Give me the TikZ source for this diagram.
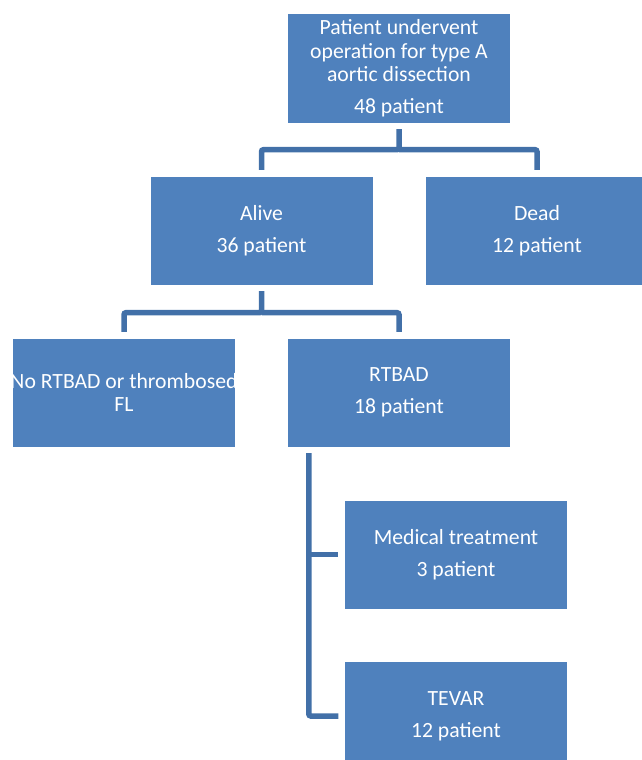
\documentclass[tikz,border=0pt]{standalone}
\usepackage{fontspec}
\setmainfont{Carlito}
\definecolor{boxblue}{RGB}{79,129,189}
\definecolor{lineblue}{RGB}{66,112,168}
\begin{document}
\begin{tikzpicture}[x=1pt,y=-1pt,
  box/.style={fill=boxblue, text=white, inner sep=0pt, align=center,
    minimum width=222pt, minimum height=108pt,
    font=\fontsize{21.7}{23.5}\selectfont},
  conn/.style={draw=lineblue, line width=5.5pt, rounded corners=2pt,
    shorten <=6.5pt, shorten >=6.5pt}]
\useasboundingbox (0,0) rectangle (642,760);
\clip (0,0) rectangle (642,760);
\node[box] (top) at (399,68.5) {Patient undervent\\operation for type A\\aortic dissection\\[8.5pt]48 patient};
\node[box] (alive) at (261.5,230.5) {Alive\\[8.5pt]36 patient};
\node[box] (dead) at (537,230.5) {Dead\\[8.5pt]12 patient};
\node[box] (norb) at (124,392.5) {\makebox[222pt]{No RTBAD or thrombosed}\\FL};
\node[box] (rtbad) at (399,392.5) {RTBAD\\[8.5pt]18 patient};
\node[box] (med) at (456,554.5) {Medical treatment\\[8.5pt]3 patient};
\node[box] (tevar) at (456,716) {TEVAR\\[8.5pt]12 patient};
\path (top.south) ++(0,27) coordinate (j1);
\draw[conn] (top.south) -- (j1) -| (alive.north);
\draw[conn, shorten <=0pt] (j1) -| (dead.north);
\path (alive.south) ++(0,28) coordinate (j2);
\draw[conn] (alive.south) -- (j2) -| (norb.north);
\draw[conn, shorten <=0pt] (j2) -| (rtbad.north);
\coordinate (spine) at ([xshift=21pt]rtbad.south west);
\draw[conn] (spine) |- (tevar.west);
\draw[conn, shorten <=0pt] (spine |- med.west) -- (med.west);
\end{tikzpicture}
\end{document}
